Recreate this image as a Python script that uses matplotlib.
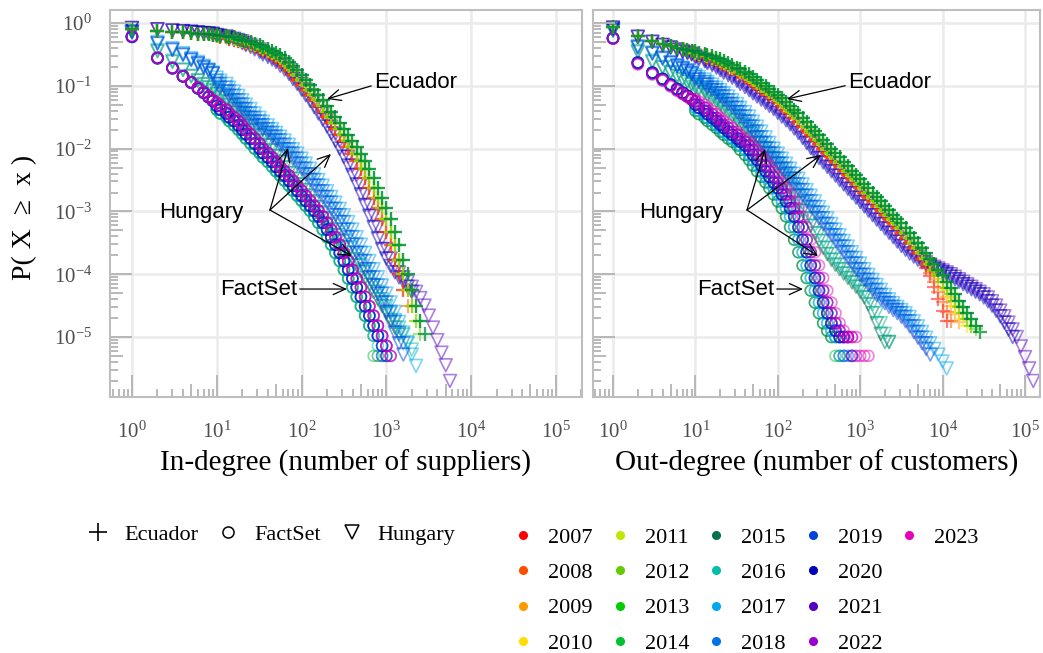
import numpy as np
import matplotlib
matplotlib.use('Agg')
import matplotlib.pyplot as plt
from matplotlib.lines import Line2D
from matplotlib.ticker import NullLocator

plt.rcParams['font.family'] = ['Liberation Serif', 'DejaVu Serif']
plt.rcParams['mathtext.fontset'] = 'custom'
plt.rcParams['mathtext.rm'] = 'Liberation Serif'
plt.rcParams['mathtext.it'] = 'Liberation Serif:italic'
plt.rcParams['mathtext.default'] = 'regular'

# degree values at which the distributions are read (1..9, then every 0.05 decade)
DEG = [1, 2, 3, 4, 5, 6, 7, 8, 9, 10, 11, 13, 14, 16, 18, 20, 22, 25, 28, 32, 35, 40, 45,
       50, 56, 63, 71, 79, 89, 100, 112, 126, 141, 158, 178, 200, 224, 251, 282, 316, 355,
       398, 447, 501, 562, 631, 708, 794, 891, 1000, 1122, 1259, 1413, 1585, 1778, 1995,
       2239, 2512, 2818, 3162, 3548, 3981, 4467, 5012, 5623, 6310, 7079, 7943, 8913,
       10000, 11220, 12589, 14125, 15849, 17783, 19953, 22387, 25119, 28184, 31623, 35481,
       39811, 44668, 50119, 56234, 63096, 70795, 79433, 89125, 100000, 112202, 125893,
       141254]

years = list(range(2007, 2024))
year_colors = ['#FF0000', '#FF4D00', '#FF9900', '#FFDD00', '#C2E600', '#66CC00',
               '#00CC00', '#00C22E', '#00734A', '#00BFA6', '#00A8F0', '#0073E6',
               '#0044D9', '#0000B8', '#5500C0', '#9900CC', '#E600B8']

# log10 P(X >= x), in-degree
ecuador_in = {
    2007: [-0.10, -0.12, -0.14, -0.15, -0.16, -0.17, -0.175, -0.18, -0.19, -0.21, -0.22, -0.23, -0.25, -0.27, -0.29, -0.31, -0.33, -0.35, -0.38, -0.41, -0.44, -0.47, -0.51, -0.56, -0.62, -0.68, -0.75, -0.83, -0.91, -0.99, -1.07, -1.15, -1.23, -1.32, -1.41, -1.50, -1.59, -1.68, -1.78, -1.88, -1.98, -2.08, -2.20, -2.33, -2.47, -2.62, -2.78, -2.94, -3.12, -3.32, -3.54, -3.77, -4.00, -4.25],
    2008: [-0.10, -0.12, -0.14, -0.15, -0.16, -0.17, -0.175, -0.18, -0.19, -0.21, -0.22, -0.23, -0.25, -0.27, -0.29, -0.31, -0.33, -0.35, -0.38, -0.41, -0.44, -0.47, -0.51, -0.56, -0.62, -0.68, -0.75, -0.83, -0.91, -0.99, -1.07, -1.15, -1.23, -1.32, -1.41, -1.50, -1.59, -1.68, -1.78, -1.88, -1.98, -2.08, -2.20, -2.33, -2.47, -2.62, -2.78, -2.94, -3.12, -3.32, -3.54, -3.77, -4.00, -4.25, -4.50],
    2009: [-0.10, -0.12, -0.14, -0.15, -0.16, -0.17, -0.175, -0.18, -0.19, -0.20, -0.21, -0.22, -0.23, -0.25, -0.27, -0.29, -0.31, -0.33, -0.35, -0.38, -0.41, -0.44, -0.47, -0.51, -0.56, -0.62, -0.68, -0.75, -0.83, -0.91, -0.99, -1.07, -1.15, -1.23, -1.32, -1.41, -1.50, -1.59, -1.68, -1.78, -1.88, -1.98, -2.08, -2.20, -2.33, -2.47, -2.62, -2.78, -2.94, -3.12, -3.32, -3.54, -3.77, -4.00, -4.25, -4.50],
    2010: [-0.10, -0.12, -0.14, -0.15, -0.16, -0.17, -0.175, -0.18, -0.19, -0.20, -0.21, -0.22, -0.23, -0.25, -0.27, -0.29, -0.31, -0.33, -0.35, -0.38, -0.41, -0.44, -0.47, -0.51, -0.56, -0.62, -0.68, -0.75, -0.83, -0.91, -0.99, -1.07, -1.15, -1.23, -1.32, -1.41, -1.50, -1.59, -1.68, -1.78, -1.88, -1.98, -2.08, -2.20, -2.33, -2.47, -2.62, -2.78, -2.94, -3.12, -3.32, -3.54, -3.77, -4.00, -4.25, -4.50, -4.75],
    2011: [-0.10, -0.12, -0.14, -0.15, -0.16, -0.17, -0.175, -0.18, -0.19, -0.20, -0.21, -0.22, -0.23, -0.25, -0.27, -0.29, -0.31, -0.33, -0.35, -0.38, -0.41, -0.44, -0.47, -0.51, -0.56, -0.62, -0.68, -0.75, -0.83, -0.91, -0.99, -1.07, -1.15, -1.23, -1.32, -1.41, -1.50, -1.59, -1.68, -1.78, -1.88, -1.98, -2.08, -2.20, -2.33, -2.47, -2.62, -2.78, -2.94, -3.12, -3.32, -3.54, -3.77, -4.00, -4.25, -4.50],
    2012: [-0.10, -0.12, -0.14, -0.15, -0.16, -0.17, -0.175, -0.18, -0.19, -0.20, -0.21, -0.22, -0.23, -0.25, -0.27, -0.29, -0.31, -0.33, -0.35, -0.38, -0.41, -0.44, -0.47, -0.51, -0.56, -0.62, -0.68, -0.75, -0.83, -0.91, -0.99, -1.07, -1.15, -1.23, -1.32, -1.41, -1.50, -1.59, -1.68, -1.78, -1.88, -1.98, -2.08, -2.20, -2.33, -2.47, -2.62, -2.78, -2.94, -3.12, -3.32, -3.54, -3.77, -4.00, -4.25, -4.50, -4.75, -4.95],
    2013: [-0.10, -0.12, -0.14, -0.15, -0.16, -0.17, -0.175, -0.18, -0.19, -0.19, -0.20, -0.21, -0.22, -0.23, -0.25, -0.27, -0.29, -0.31, -0.33, -0.35, -0.38, -0.41, -0.44, -0.47, -0.51, -0.56, -0.62, -0.68, -0.75, -0.83, -0.91, -0.99, -1.07, -1.15, -1.23, -1.32, -1.41, -1.50, -1.59, -1.68, -1.78, -1.88, -1.98, -2.08, -2.20, -2.33, -2.47, -2.62, -2.78, -2.94, -3.12, -3.32, -3.54, -3.77, -4.00, -4.25, -4.50, -4.75],
    2014: [-0.10, -0.12, -0.14, -0.15, -0.16, -0.17, -0.175, -0.18, -0.19, -0.19, -0.20, -0.21, -0.22, -0.23, -0.25, -0.27, -0.29, -0.31, -0.33, -0.35, -0.38, -0.41, -0.44, -0.47, -0.51, -0.56, -0.62, -0.68, -0.75, -0.83, -0.91, -0.99, -1.07, -1.15, -1.23, -1.32, -1.41, -1.50, -1.59, -1.68, -1.78, -1.88, -1.98, -2.08, -2.20, -2.33, -2.47, -2.62, -2.78, -2.94, -3.12, -3.32, -3.54, -3.77, -4.00, -4.25, -4.50, -4.75, -4.95],
    2015: [-0.10, -0.12, -0.14, -0.15, -0.16, -0.17, -0.175, -0.18, -0.19, -0.19, -0.20, -0.21, -0.22, -0.23, -0.25, -0.27, -0.29, -0.31, -0.33, -0.35, -0.38, -0.41, -0.44, -0.47, -0.51, -0.56, -0.62, -0.68, -0.75, -0.83, -0.91, -0.99, -1.07, -1.15, -1.23, -1.32, -1.41, -1.50, -1.59, -1.68, -1.78, -1.88, -1.98, -2.08, -2.20, -2.33, -2.47, -2.62, -2.78, -2.94, -3.12, -3.32, -3.54, -3.77, -4.00, -4.25, -4.50, -4.75, -4.95],
}
hungary_in = {
    2015: [-0.15, -0.45, -0.62, -0.75, -0.85, -0.92, -0.98, -1.03, -1.08, -1.13, -1.19, -1.25, -1.31, -1.37, -1.43, -1.50, -1.57, -1.64, -1.71, -1.79, -1.87, -1.95, -2.03, -2.12, -2.21, -2.30, -2.39, -2.48, -2.57, -2.66, -2.75, -2.84, -2.93, -3.02, -3.11, -3.20, -3.29, -3.38, -3.47, -3.57, -3.66, -3.76, -3.86, -3.96, -4.06, -4.17, -4.28, -4.40, -4.51, -4.62, -4.73, -4.85, -4.96],
    2016: [-0.15, -0.43, -0.60, -0.74, -0.84, -0.91, -0.97, -1.02, -1.06, -1.08, -1.13, -1.19, -1.25, -1.31, -1.37, -1.43, -1.50, -1.57, -1.64, -1.71, -1.79, -1.87, -1.95, -2.03, -2.12, -2.21, -2.30, -2.39, -2.48, -2.57, -2.66, -2.75, -2.84, -2.93, -3.02, -3.11, -3.20, -3.29, -3.38, -3.47, -3.57, -3.66, -3.76, -3.86, -3.96, -4.06, -4.17, -4.28, -4.40, -4.51, -4.62, -4.73, -4.85, -4.96, -5.08, -5.20],
    2017: [-0.13, -0.30, -0.40, -0.48, -0.56, -0.62, -0.68, -0.74, -0.79, -0.87, -0.92, -0.97, -1.03, -1.09, -1.16, -1.23, -1.30, -1.37, -1.44, -1.51, -1.57, -1.63, -1.69, -1.75, -1.81, -1.87, -1.94, -2.01, -2.08, -2.16, -2.24, -2.32, -2.41, -2.50, -2.59, -2.68, -2.77, -2.86, -2.96, -3.06, -3.17, -3.29, -3.41, -3.53, -3.66, -3.79, -3.92, -4.05, -4.18, -4.31, -4.45, -4.60, -4.76, -4.93, -5.10, -5.28, -5.46],
    2018: [-0.14, -0.32, -0.42, -0.50, -0.58, -0.64, -0.70, -0.75, -0.80, -0.92, -0.97, -1.03, -1.09, -1.16, -1.23, -1.30, -1.37, -1.44, -1.51, -1.57, -1.63, -1.69, -1.75, -1.81, -1.87, -1.94, -2.01, -2.08, -2.16, -2.24, -2.32, -2.41, -2.50, -2.59, -2.68, -2.77, -2.86, -2.96, -3.06, -3.17, -3.29, -3.41, -3.53, -3.66, -3.79, -3.92, -4.05, -4.18, -4.31, -4.45, -4.60, -4.76, -4.93, -5.10],
    2019: [-0.14, -0.33, -0.43, -0.51, -0.59, -0.65, -0.71, -0.76, -0.81, -0.97, -1.03, -1.09, -1.16, -1.23, -1.30, -1.37, -1.44, -1.51, -1.57, -1.63, -1.69, -1.75, -1.81, -1.87, -1.94, -2.01, -2.08, -2.16, -2.24, -2.32, -2.41, -2.50, -2.59, -2.68, -2.77, -2.86, -2.96, -3.06, -3.17, -3.29, -3.41, -3.53, -3.66, -3.79, -3.92, -4.05, -4.18, -4.31, -4.45, -4.60, -4.76, -4.93, -5.10, -5.28],
    2020: [-0.08, -0.10, -0.12, -0.13, -0.14, -0.15, -0.16, -0.165, -0.17, -0.20, -0.21, -0.23, -0.25, -0.27, -0.29, -0.32, -0.35, -0.38, -0.42, -0.46, -0.50, -0.54, -0.58, -0.62, -0.68, -0.74, -0.81, -0.89, -0.97, -1.06, -1.15, -1.24, -1.34, -1.44, -1.54, -1.65, -1.76, -1.88, -2.00, -2.13, -2.27, -2.42, -2.57, -2.73, -2.90, -3.07, -3.25, -3.43, -3.60, -3.75, -3.87, -3.97, -4.05, -4.12, -4.20, -4.28],
    2021: [-0.08, -0.10, -0.12, -0.13, -0.14, -0.15, -0.16, -0.17, -0.18, -0.19, -0.20, -0.21, -0.23, -0.25, -0.27, -0.29, -0.32, -0.35, -0.38, -0.42, -0.46, -0.50, -0.54, -0.58, -0.62, -0.68, -0.74, -0.81, -0.89, -0.97, -1.06, -1.15, -1.24, -1.34, -1.44, -1.54, -1.65, -1.76, -1.88, -2.00, -2.13, -2.27, -2.42, -2.57, -2.73, -2.90, -3.07, -3.25, -3.43, -3.60, -3.75, -3.87, -3.97, -4.05, -4.12, -4.20, -4.28, -4.38, -4.50, -4.66, -4.85, -5.05, -5.25, -5.45, -5.70],
}
factset_in = {
    2014: [-0.22, -0.56, -0.72, -0.85, -0.95, -1.04, -1.11, -1.18, -1.24, -1.38, -1.44, -1.50, -1.56, -1.63, -1.70, -1.77, -1.84, -1.92, -2.00, -2.07, -2.14, -2.21, -2.29, -2.36, -2.43, -2.51, -2.59, -2.67, -2.75, -2.83, -2.91, -2.99, -3.08, -3.18, -3.29, -3.41, -3.53, -3.66, -3.79, -3.93, -4.07, -4.21, -4.36, -4.51, -4.66, -4.82, -5.30],
    2015: [-0.22, -0.56, -0.72, -0.85, -0.95, -1.04, -1.11, -1.18, -1.24, -1.38, -1.44, -1.50, -1.56, -1.63, -1.70, -1.77, -1.84, -1.92, -2.00, -2.07, -2.14, -2.21, -2.29, -2.36, -2.43, -2.51, -2.59, -2.67, -2.75, -2.83, -2.91, -2.99, -3.08, -3.18, -3.29, -3.41, -3.53, -3.66, -3.79, -3.93, -4.07, -4.21, -4.36, -4.51, -4.66, -4.82, -4.98, -5.30],
    2016: [-0.22, -0.56, -0.72, -0.85, -0.95, -1.04, -1.11, -1.18, -1.24, -1.38, -1.44, -1.50, -1.56, -1.63, -1.70, -1.77, -1.84, -1.92, -2.00, -2.07, -2.14, -2.21, -2.29, -2.36, -2.43, -2.51, -2.59, -2.67, -2.75, -2.83, -2.91, -2.99, -3.08, -3.18, -3.29, -3.41, -3.53, -3.66, -3.79, -3.93, -4.07, -4.21, -4.36, -4.51, -4.66, -4.82, -4.98, -5.14, -5.30],
    2017: [-0.22, -0.56, -0.72, -0.85, -0.95, -1.04, -1.11, -1.18, -1.24, -1.32, -1.38, -1.44, -1.50, -1.56, -1.63, -1.70, -1.77, -1.84, -1.92, -2.00, -2.07, -2.14, -2.21, -2.29, -2.36, -2.43, -2.51, -2.59, -2.67, -2.75, -2.83, -2.91, -2.99, -3.08, -3.18, -3.29, -3.41, -3.53, -3.66, -3.79, -3.93, -4.07, -4.21, -4.36, -4.51, -4.66, -4.82, -4.98, -5.14],
    2018: [-0.22, -0.56, -0.72, -0.85, -0.95, -1.04, -1.11, -1.18, -1.24, -1.32, -1.38, -1.44, -1.50, -1.56, -1.63, -1.70, -1.77, -1.84, -1.92, -2.00, -2.07, -2.14, -2.21, -2.29, -2.36, -2.43, -2.51, -2.59, -2.67, -2.75, -2.83, -2.91, -2.99, -3.08, -3.18, -3.29, -3.41, -3.53, -3.66, -3.79, -3.93, -4.07, -4.21, -4.36, -4.51, -4.66, -4.82, -4.98, -5.14, -5.30],
    2019: [-0.22, -0.56, -0.72, -0.85, -0.95, -1.04, -1.11, -1.18, -1.24, -1.32, -1.38, -1.44, -1.50, -1.56, -1.63, -1.70, -1.77, -1.84, -1.92, -2.00, -2.07, -2.14, -2.21, -2.29, -2.36, -2.43, -2.51, -2.59, -2.67, -2.75, -2.83, -2.91, -2.99, -3.08, -3.18, -3.29, -3.41, -3.53, -3.66, -3.79, -3.93, -4.07, -4.21, -4.36, -4.51, -4.66, -4.82, -4.98, -5.30],
    2020: [-0.22, -0.56, -0.72, -0.85, -0.95, -1.04, -1.11, -1.18, -1.24, -1.32, -1.38, -1.44, -1.50, -1.56, -1.63, -1.70, -1.77, -1.84, -1.92, -2.00, -2.07, -2.14, -2.21, -2.29, -2.36, -2.43, -2.51, -2.59, -2.67, -2.75, -2.83, -2.91, -2.99, -3.08, -3.18, -3.29, -3.41, -3.53, -3.66, -3.79, -3.93, -4.07, -4.21, -4.36, -4.51, -4.66, -4.82, -4.98, -5.14, -5.30],
    2021: [-0.21, -0.55, -0.71, -0.84, -0.94, -1.03, -1.10, -1.17, -1.23, -1.27, -1.32, -1.38, -1.44, -1.50, -1.56, -1.63, -1.70, -1.77, -1.84, -1.92, -2.00, -2.07, -2.14, -2.21, -2.29, -2.36, -2.43, -2.51, -2.59, -2.67, -2.75, -2.83, -2.91, -2.99, -3.08, -3.18, -3.29, -3.41, -3.53, -3.66, -3.79, -3.93, -4.07, -4.21, -4.36, -4.51, -4.66, -4.82, -4.98, -5.14, -5.30],
    2022: [-0.21, -0.55, -0.71, -0.84, -0.94, -1.03, -1.10, -1.17, -1.23, -1.27, -1.32, -1.38, -1.44, -1.50, -1.56, -1.63, -1.70, -1.77, -1.84, -1.92, -2.00, -2.07, -2.14, -2.21, -2.29, -2.36, -2.43, -2.51, -2.59, -2.67, -2.75, -2.83, -2.91, -2.99, -3.08, -3.18, -3.29, -3.41, -3.53, -3.66, -3.79, -3.93, -4.07, -4.21, -4.36, -4.51, -4.66, -4.82, -4.98, -5.14],
    2023: [-0.21, -0.56, -0.72, -0.85, -0.95, -1.03, -1.10, -1.17, -1.23, -1.27, -1.32, -1.38, -1.44, -1.50, -1.56, -1.63, -1.70, -1.77, -1.84, -1.92, -2.00, -2.07, -2.14, -2.21, -2.29, -2.36, -2.43, -2.51, -2.59, -2.67, -2.75, -2.83, -2.91, -2.99, -3.08, -3.18, -3.29, -3.41, -3.53, -3.66, -3.79, -3.93, -4.07, -4.21, -4.36, -4.51, -4.66, -4.82, -4.98, -5.14, -5.30],
}

# log10 P(X >= x), out-degree
ecuador_out = {
    2007: [-0.06, -0.21, -0.28, -0.33, -0.37, -0.40, -0.415, -0.43, -0.44, -0.49, -0.51, -0.53, -0.56, -0.58, -0.61, -0.64, -0.67, -0.71, -0.74, -0.78, -0.82, -0.86, -0.90, -0.95, -1.00, -1.05, -1.10, -1.15, -1.20, -1.26, -1.32, -1.38, -1.44, -1.51, -1.58, -1.65, -1.72, -1.79, -1.86, -1.93, -2.00, -2.07, -2.14, -2.21, -2.28, -2.35, -2.42, -2.49, -2.56, -2.63, -2.70, -2.77, -2.84, -2.91, -2.98, -3.05, -3.12, -3.19, -3.27, -3.35, -3.43, -3.51, -3.59, -3.67, -3.78, -3.90, -4.03, -4.20, -4.40, -4.58, -4.75],
    2008: [-0.06, -0.21, -0.28, -0.33, -0.37, -0.40, -0.415, -0.43, -0.44, -0.49, -0.51, -0.53, -0.56, -0.58, -0.61, -0.64, -0.67, -0.71, -0.74, -0.78, -0.82, -0.86, -0.90, -0.95, -1.00, -1.05, -1.10, -1.15, -1.20, -1.26, -1.32, -1.38, -1.44, -1.51, -1.58, -1.65, -1.72, -1.79, -1.86, -1.93, -2.00, -2.07, -2.14, -2.21, -2.28, -2.35, -2.42, -2.49, -2.56, -2.63, -2.70, -2.77, -2.84, -2.91, -2.98, -3.05, -3.12, -3.19, -3.27, -3.35, -3.43, -3.51, -3.59, -3.67, -3.75, -3.86, -3.98, -4.12, -4.28, -4.45, -4.60, -4.75],
    2009: [-0.06, -0.21, -0.28, -0.33, -0.37, -0.40, -0.415, -0.43, -0.44, -0.47, -0.49, -0.51, -0.53, -0.56, -0.58, -0.61, -0.64, -0.67, -0.71, -0.74, -0.78, -0.82, -0.86, -0.90, -0.95, -1.00, -1.05, -1.10, -1.15, -1.20, -1.26, -1.32, -1.38, -1.44, -1.51, -1.58, -1.65, -1.72, -1.79, -1.86, -1.93, -2.00, -2.07, -2.14, -2.21, -2.28, -2.35, -2.42, -2.49, -2.56, -2.63, -2.70, -2.77, -2.84, -2.91, -2.98, -3.05, -3.12, -3.19, -3.27, -3.35, -3.43, -3.51, -3.59, -3.67, -3.75, -3.84, -3.95, -4.08, -4.22, -4.36, -4.50, -4.64, -4.76],
    2010: [-0.06, -0.21, -0.28, -0.33, -0.37, -0.40, -0.415, -0.43, -0.44, -0.47, -0.49, -0.51, -0.53, -0.56, -0.58, -0.61, -0.64, -0.67, -0.71, -0.74, -0.78, -0.82, -0.86, -0.90, -0.95, -1.00, -1.05, -1.10, -1.15, -1.20, -1.26, -1.32, -1.38, -1.44, -1.51, -1.58, -1.65, -1.72, -1.79, -1.86, -1.93, -2.00, -2.07, -2.14, -2.21, -2.28, -2.35, -2.42, -2.49, -2.56, -2.63, -2.70, -2.77, -2.84, -2.91, -2.98, -3.05, -3.12, -3.19, -3.27, -3.35, -3.43, -3.51, -3.59, -3.67, -3.75, -3.84, -3.93, -4.02, -4.13, -4.25, -4.38, -4.50, -4.62, -4.72, -4.82],
    2011: [-0.06, -0.21, -0.28, -0.33, -0.37, -0.40, -0.415, -0.43, -0.44, -0.47, -0.49, -0.51, -0.53, -0.56, -0.58, -0.61, -0.64, -0.67, -0.71, -0.74, -0.78, -0.82, -0.86, -0.90, -0.95, -1.00, -1.05, -1.10, -1.15, -1.20, -1.26, -1.32, -1.38, -1.44, -1.51, -1.58, -1.65, -1.72, -1.79, -1.86, -1.93, -2.00, -2.07, -2.14, -2.21, -2.28, -2.35, -2.42, -2.49, -2.56, -2.63, -2.70, -2.77, -2.84, -2.91, -2.98, -3.05, -3.12, -3.19, -3.27, -3.35, -3.43, -3.51, -3.59, -3.67, -3.75, -3.84, -3.93, -4.02, -4.12, -4.22, -4.32, -4.42, -4.52, -4.62, -4.72, -4.82],
    2012: [-0.06, -0.21, -0.28, -0.33, -0.37, -0.40, -0.415, -0.43, -0.44, -0.47, -0.49, -0.51, -0.53, -0.56, -0.58, -0.61, -0.64, -0.67, -0.71, -0.74, -0.78, -0.82, -0.86, -0.90, -0.95, -1.00, -1.05, -1.10, -1.15, -1.20, -1.26, -1.32, -1.38, -1.44, -1.51, -1.58, -1.65, -1.72, -1.79, -1.86, -1.93, -2.00, -2.07, -2.14, -2.21, -2.28, -2.35, -2.42, -2.49, -2.56, -2.63, -2.70, -2.77, -2.84, -2.91, -2.98, -3.05, -3.12, -3.19, -3.27, -3.35, -3.43, -3.51, -3.59, -3.67, -3.75, -3.84, -3.93, -4.02, -4.12, -4.22, -4.32, -4.42, -4.52, -4.62, -4.72, -4.82, -4.88],
    2013: [-0.06, -0.21, -0.28, -0.33, -0.37, -0.40, -0.415, -0.43, -0.44, -0.45, -0.47, -0.49, -0.51, -0.53, -0.56, -0.58, -0.61, -0.64, -0.67, -0.71, -0.74, -0.78, -0.82, -0.86, -0.90, -0.95, -1.00, -1.05, -1.10, -1.15, -1.20, -1.26, -1.32, -1.38, -1.44, -1.51, -1.58, -1.65, -1.72, -1.79, -1.86, -1.93, -2.00, -2.07, -2.14, -2.21, -2.28, -2.35, -2.42, -2.49, -2.56, -2.63, -2.70, -2.77, -2.84, -2.91, -2.98, -3.05, -3.12, -3.19, -3.27, -3.35, -3.43, -3.51, -3.59, -3.67, -3.75, -3.84, -3.93, -4.02, -4.12, -4.22, -4.32, -4.42, -4.52, -4.62, -4.72, -4.82, -4.92],
    2014: [-0.06, -0.21, -0.28, -0.33, -0.37, -0.40, -0.415, -0.43, -0.44, -0.45, -0.47, -0.49, -0.51, -0.53, -0.56, -0.58, -0.61, -0.64, -0.67, -0.71, -0.74, -0.78, -0.82, -0.86, -0.90, -0.95, -1.00, -1.05, -1.10, -1.15, -1.20, -1.26, -1.32, -1.38, -1.44, -1.51, -1.58, -1.65, -1.72, -1.79, -1.86, -1.93, -2.00, -2.07, -2.14, -2.21, -2.28, -2.35, -2.42, -2.49, -2.56, -2.63, -2.70, -2.77, -2.84, -2.91, -2.98, -3.05, -3.12, -3.19, -3.27, -3.35, -3.43, -3.51, -3.59, -3.67, -3.75, -3.84, -3.93, -4.02, -4.12, -4.22, -4.32, -4.42, -4.52, -4.62, -4.72, -4.82],
    2015: [-0.06, -0.21, -0.28, -0.33, -0.37, -0.40, -0.415, -0.43, -0.44, -0.45, -0.47, -0.49, -0.51, -0.53, -0.56, -0.58, -0.61, -0.64, -0.67, -0.71, -0.74, -0.78, -0.82, -0.86, -0.90, -0.95, -1.00, -1.05, -1.10, -1.15, -1.20, -1.26, -1.32, -1.38, -1.44, -1.51, -1.58, -1.65, -1.72, -1.79, -1.86, -1.93, -2.00, -2.07, -2.14, -2.21, -2.28, -2.35, -2.42, -2.49, -2.56, -2.63, -2.70, -2.77, -2.84, -2.91, -2.98, -3.05, -3.12, -3.19, -3.27, -3.35, -3.43, -3.51, -3.59, -3.67, -3.75, -3.84, -3.93, -4.02, -4.12, -4.22, -4.32, -4.42, -4.52, -4.62, -4.72, -4.82, -4.92],
}
hungary_out = {
    2015: [-0.12, -0.46, -0.62, -0.71, -0.79, -0.85, -0.90, -0.94, -0.98, -1.02, -1.06, -1.10, -1.15, -1.20, -1.25, -1.30, -1.36, -1.42, -1.48, -1.55, -1.62, -1.69, -1.76, -1.83, -1.91, -1.99, -2.07, -2.15, -2.24, -2.33, -2.43, -2.53, -2.64, -2.75, -2.87, -2.99, -3.11, -3.23, -3.35, -3.47, -3.58, -3.68, -3.77, -3.85, -3.92, -3.99, -4.06, -4.13, -4.20, -4.28, -4.37, -4.48, -4.62, -4.78, -4.95, -5.08, -5.08],
    2016: [-0.12, -0.44, -0.60, -0.70, -0.78, -0.84, -0.89, -0.93, -0.97, -0.99, -1.02, -1.06, -1.10, -1.15, -1.20, -1.25, -1.30, -1.36, -1.42, -1.48, -1.55, -1.62, -1.69, -1.76, -1.83, -1.91, -1.99, -2.07, -2.15, -2.24, -2.33, -2.43, -2.53, -2.64, -2.75, -2.87, -2.99, -3.11, -3.23, -3.35, -3.47, -3.58, -3.68, -3.77, -3.85, -3.92, -3.99, -4.06, -4.13, -4.20, -4.28, -4.37, -4.48, -4.62, -4.78, -4.95, -5.08],
    2017: [-0.10, -0.37, -0.47, -0.55, -0.62, -0.67, -0.71, -0.75, -0.79, -0.83, -0.86, -0.90, -0.94, -0.98, -1.03, -1.07, -1.12, -1.17, -1.23, -1.29, -1.35, -1.42, -1.49, -1.57, -1.65, -1.73, -1.82, -1.91, -2.00, -2.08, -2.16, -2.24, -2.32, -2.40, -2.48, -2.57, -2.66, -2.75, -2.84, -2.93, -3.02, -3.11, -3.20, -3.29, -3.38, -3.47, -3.56, -3.65, -3.74, -3.83, -3.92, -4.01, -4.09, -4.17, -4.25, -4.33, -4.40, -4.46, -4.52, -4.57, -4.62, -4.68, -4.75, -4.83, -4.92, -5.01, -5.10, -5.19, -5.28, -5.39, -5.50],
    2018: [-0.10, -0.38, -0.48, -0.56, -0.63, -0.68, -0.72, -0.76, -0.80, -0.86, -0.90, -0.94, -0.98, -1.03, -1.07, -1.12, -1.17, -1.23, -1.29, -1.35, -1.42, -1.49, -1.57, -1.65, -1.73, -1.82, -1.91, -2.00, -2.08, -2.16, -2.24, -2.32, -2.40, -2.48, -2.57, -2.66, -2.75, -2.84, -2.93, -3.02, -3.11, -3.20, -3.29, -3.38, -3.47, -3.56, -3.65, -3.74, -3.83, -3.92, -4.01, -4.09, -4.17, -4.25, -4.33, -4.40, -4.46, -4.52, -4.57, -4.62, -4.68, -4.75, -4.83, -4.92, -5.01, -5.10],
    2019: [-0.11, -0.39, -0.49, -0.57, -0.64, -0.69, -0.73, -0.77, -0.81, -0.90, -0.94, -0.98, -1.03, -1.07, -1.12, -1.17, -1.23, -1.29, -1.35, -1.42, -1.49, -1.57, -1.65, -1.73, -1.82, -1.91, -2.00, -2.08, -2.16, -2.24, -2.32, -2.40, -2.48, -2.57, -2.66, -2.75, -2.84, -2.93, -3.02, -3.11, -3.20, -3.29, -3.38, -3.47, -3.56, -3.65, -3.74, -3.83, -3.92, -4.01, -4.09, -4.17, -4.25, -4.33, -4.40, -4.46, -4.52, -4.57, -4.62, -4.68, -4.75, -4.83, -4.92, -5.01, -5.10, -5.19, -5.28],
    2020: [-0.07, -0.22, -0.30, -0.35, -0.39, -0.42, -0.45, -0.47, -0.49, -0.55, -0.58, -0.61, -0.64, -0.67, -0.71, -0.75, -0.79, -0.83, -0.87, -0.92, -0.97, -1.02, -1.07, -1.12, -1.17, -1.22, -1.27, -1.32, -1.37, -1.43, -1.49, -1.55, -1.61, -1.68, -1.75, -1.83, -1.91, -1.99, -2.07, -2.15, -2.22, -2.29, -2.36, -2.43, -2.50, -2.57, -2.64, -2.71, -2.78, -2.85, -2.92, -2.99, -3.06, -3.13, -3.20, -3.27, -3.34, -3.41, -3.48, -3.55, -3.61, -3.67, -3.72, -3.77, -3.81, -3.85, -3.88, -3.91, -3.94, -3.97, -4.00, -4.04, -4.08, -4.12, -4.16, -4.20, -4.24, -4.28, -4.32, -4.37, -4.43, -4.50, -4.58, -4.67, -4.77, -4.88, -5.00],
    2021: [-0.08, -0.22, -0.30, -0.35, -0.39, -0.43, -0.46, -0.48, -0.50, -0.52, -0.55, -0.58, -0.61, -0.64, -0.67, -0.71, -0.75, -0.79, -0.83, -0.87, -0.92, -0.97, -1.02, -1.07, -1.12, -1.17, -1.22, -1.27, -1.32, -1.37, -1.43, -1.49, -1.55, -1.61, -1.68, -1.75, -1.83, -1.91, -1.99, -2.07, -2.15, -2.22, -2.29, -2.36, -2.43, -2.50, -2.57, -2.64, -2.71, -2.78, -2.85, -2.92, -2.99, -3.06, -3.13, -3.20, -3.27, -3.34, -3.41, -3.48, -3.55, -3.61, -3.67, -3.72, -3.77, -3.81, -3.85, -3.88, -3.91, -3.94, -3.97, -4.00, -4.04, -4.08, -4.12, -4.16, -4.20, -4.24, -4.28, -4.32, -4.37, -4.43, -4.50, -4.58, -4.67, -4.77, -4.88, -5.00, -5.15, -5.32, -5.50, -5.70],
}
factset_out = {
    2014: [-0.24, -0.63, -0.79, -0.89, -0.98, -1.05, -1.11, -1.16, -1.21, -1.40, -1.45, -1.51, -1.56, -1.62, -1.67, -1.73, -1.78, -1.84, -1.89, -1.95, -2.02, -2.10, -2.18, -2.27, -2.36, -2.45, -2.54, -2.63, -2.73, -2.84, -2.95, -3.08, -3.25, -3.45, -3.65, -3.86, -4.06, -4.26, -4.45, -4.62, -4.78, -4.90, -5.00, -5.30],
    2015: [-0.24, -0.63, -0.79, -0.89, -0.98, -1.05, -1.11, -1.16, -1.21, -1.40, -1.45, -1.51, -1.56, -1.62, -1.67, -1.73, -1.78, -1.84, -1.89, -1.95, -2.02, -2.10, -2.18, -2.27, -2.36, -2.45, -2.54, -2.63, -2.73, -2.84, -2.95, -3.08, -3.25, -3.45, -3.65, -3.86, -4.06, -4.26, -4.45, -4.62, -4.78, -4.90, -5.00, -5.00, -5.30],
    2016: [-0.24, -0.63, -0.79, -0.89, -0.98, -1.05, -1.11, -1.16, -1.21, -1.35, -1.40, -1.45, -1.51, -1.56, -1.62, -1.67, -1.73, -1.78, -1.84, -1.89, -1.95, -2.02, -2.10, -2.18, -2.27, -2.36, -2.45, -2.54, -2.63, -2.73, -2.84, -2.95, -3.08, -3.25, -3.45, -3.65, -3.86, -4.06, -4.26, -4.45, -4.62, -4.78, -4.90, -5.00, -5.30],
    2017: [-0.24, -0.63, -0.79, -0.89, -0.98, -1.05, -1.11, -1.16, -1.21, -1.35, -1.40, -1.45, -1.51, -1.56, -1.62, -1.67, -1.73, -1.78, -1.84, -1.89, -1.95, -2.02, -2.10, -2.18, -2.27, -2.36, -2.45, -2.54, -2.63, -2.73, -2.84, -2.95, -3.08, -3.25, -3.45, -3.65, -3.86, -4.06, -4.26, -4.45, -4.62, -4.78, -4.90, -5.00, -5.00, -5.30],
    2018: [-0.24, -0.63, -0.79, -0.89, -0.98, -1.05, -1.11, -1.16, -1.21, -1.30, -1.35, -1.40, -1.45, -1.51, -1.56, -1.62, -1.67, -1.73, -1.78, -1.84, -1.89, -1.95, -2.02, -2.10, -2.18, -2.27, -2.36, -2.45, -2.54, -2.63, -2.73, -2.84, -2.95, -3.08, -3.25, -3.45, -3.65, -3.86, -4.06, -4.26, -4.45, -4.62, -4.78, -4.90, -5.00, -5.00, -5.30],
    2019: [-0.24, -0.63, -0.79, -0.89, -0.98, -1.05, -1.11, -1.16, -1.21, -1.30, -1.35, -1.40, -1.45, -1.51, -1.56, -1.62, -1.67, -1.73, -1.78, -1.84, -1.89, -1.95, -2.02, -2.10, -2.18, -2.27, -2.36, -2.45, -2.54, -2.63, -2.73, -2.84, -2.95, -3.08, -3.25, -3.45, -3.65, -3.86, -4.06, -4.26, -4.45, -4.62, -4.78, -4.90, -5.00, -5.30],
    2020: [-0.24, -0.63, -0.79, -0.89, -0.98, -1.05, -1.11, -1.16, -1.21, -1.30, -1.35, -1.40, -1.45, -1.51, -1.56, -1.62, -1.67, -1.73, -1.78, -1.84, -1.89, -1.95, -2.02, -2.10, -2.18, -2.27, -2.36, -2.45, -2.54, -2.63, -2.73, -2.84, -2.95, -3.08, -3.25, -3.45, -3.65, -3.86, -4.06, -4.26, -4.45, -4.62, -4.78, -4.90, -5.00, -5.00, -5.00, -5.30],
    2021: [-0.24, -0.64, -0.80, -0.90, -0.99, -1.06, -1.12, -1.17, -1.22, -1.25, -1.30, -1.35, -1.40, -1.45, -1.51, -1.56, -1.62, -1.67, -1.73, -1.78, -1.84, -1.89, -1.95, -2.02, -2.10, -2.18, -2.27, -2.36, -2.45, -2.54, -2.63, -2.73, -2.84, -2.95, -3.08, -3.25, -3.45, -3.65, -3.86, -4.06, -4.26, -4.45, -4.62, -4.78, -4.90, -5.00, -5.00, -5.30],
    2022: [-0.25, -0.65, -0.81, -0.91, -1.00, -1.07, -1.13, -1.17, -1.22, -1.25, -1.30, -1.35, -1.40, -1.45, -1.51, -1.56, -1.62, -1.67, -1.73, -1.78, -1.84, -1.89, -1.95, -2.02, -2.10, -2.18, -2.27, -2.36, -2.45, -2.54, -2.63, -2.73, -2.84, -2.95, -3.08, -3.25, -3.45, -3.65, -3.86, -4.06, -4.26, -4.45, -4.62, -4.78, -4.90, -5.00, -5.00, -5.00, -5.30],
    2023: [-0.25, -0.66, -0.82, -0.92, -1.01, -1.08, -1.13, -1.18, -1.21, -1.21, -1.25, -1.30, -1.35, -1.40, -1.45, -1.51, -1.56, -1.62, -1.67, -1.73, -1.78, -1.84, -1.89, -1.95, -2.02, -2.10, -2.18, -2.27, -2.36, -2.45, -2.54, -2.63, -2.73, -2.84, -2.95, -3.08, -3.25, -3.45, -3.65, -3.86, -4.06, -4.26, -4.45, -4.62, -4.78, -4.90, -5.00, -5.00, -5.00, -5.30, -5.30, -5.30],
}

# Hungary 2020 (dark blue) sits on top of 2021 in the picture
hungary_order = [2015, 2016, 2017, 2018, 2019, 2021, 2020]

# label placement in (log10 x, log10 y)
notes_in = {'ecuador': ((2.854, -0.955), (2.30, -1.21)),
            'hungary': ((0.814, -3.01), (1.627, -2.978), [(1.84, -1.99), (2.347, -2.086), (2.594, -3.71)]),
            'factset': ((1.946, -4.236), (2.535, -4.236))}
notes_out = {'ecuador': ((2.852, -0.955), (2.112, -1.21)),
             'hungary': ((0.831, -3.01), (1.626, -2.978), [(1.845, -2.006), (2.524, -2.10), (2.488, -3.71)]),
             'factset': ((1.954, -4.236), (2.306, -4.236))}

W, H = 1043, 653
ALPHA = 0.5
GRID = '#EBEBEB'
FRAME = '#BEBEBE'
TICK = '#B3B3B3'
Y_LO, Y_HI = -5.955, 0.207
ARROW = dict(arrowstyle='->,head_length=0.55,head_width=0.25', color='black',
             lw=0.9, shrinkA=0, shrinkB=0, mutation_scale=16)
SANS = 'Liberation Sans'


def draw_series(ax, series, marker, size, lw, order=None):
    for year in (order or list(series)):
        logp = series[year]
        col = year_colors[year - 2007]
        x = DEG[:len(logp)]
        y = np.power(10.0, logp)
        if marker == '+':
            ax.scatter(x, y, marker='+', s=size, c=col, linewidths=lw, alpha=ALPHA)
        else:
            ax.scatter(x, y, marker=marker, s=size, facecolors='none',
                       edgecolors=col, linewidths=lw, alpha=ALPHA)


def logticks(ax, w_px, h_px, xlo, xhi):
    xt = ax.get_xaxis_transform()
    yt = ax.get_yaxis_transform()
    for k in range(-7, 7):
        for m in range(1, 10):
            v = m * 10.0 ** k
            n = 22 if m == 1 else (13 if m == 5 else 8)
            if 10 ** xlo <= v <= 10 ** xhi:
                ax.plot([v, v], [0, n / h_px], transform=xt, color=TICK, lw=1.3,
                        solid_capstyle='butt', zorder=1)
            if 10 ** Y_LO <= v <= 10 ** Y_HI:
                ax.plot([0, n / w_px], [v, v], transform=yt, color=TICK, lw=1.3,
                        solid_capstyle='butt', zorder=1)


def style_panel(ax, w_px, xlo, xhi, left_labels):
    ax.set_xscale('log')
    ax.set_yscale('log')
    logticks(ax, w_px, 387, xlo, xhi)
    ax.set_xlim(10 ** xlo, 10 ** xhi)
    ax.set_ylim(10 ** Y_LO, 10 ** Y_HI)
    ax.set_xticks([10.0 ** k for k in range(0, 6)])
    ax.set_xticklabels(['$10^{%d}$' % k for k in range(0, 6)])
    ax.set_yticks([10.0 ** k for k in range(-5, 1)])
    ax.set_yticklabels(['$10^{%d}$' % k for k in range(-5, 1)])
    ax.xaxis.set_minor_locator(NullLocator())
    ax.yaxis.set_minor_locator(NullLocator())
    ax.tick_params(length=0, labelsize=15, labelcolor='#4D4D4D')
    ax.tick_params(axis='x', pad=18)
    ax.tick_params(axis='y', pad=13)
    if not left_labels:
        ax.tick_params(labelleft=False)
    ax.grid(True, color=GRID, lw=1.8)
    ax.set_axisbelow(True)
    for s in ax.spines.values():
        s.set_color(FRAME)
        s.set_linewidth(1.5)


def add_notes(ax, notes):
    p = lambda t: (10 ** t[0], 10 ** t[1])
    txt, head = notes['ecuador']
    ax.annotate('Ecuador', xy=p(head), xytext=p(txt), ha='left', va='center',
                fontsize=16, family=SANS, arrowprops=dict(ARROW, relpos=(0, 0.4)))
    txt, tail, heads = notes['hungary']
    ax.text(*p(txt), 'Hungary', ha='center', va='center', fontsize=16, family=SANS)
    for h in heads:
        ax.annotate('', xy=p(h), xytext=p(tail), arrowprops=ARROW)
    txt, head = notes['factset']
    ax.annotate('FactSet', xy=p(head), xytext=p(txt), ha='right', va='center',
                fontsize=16, family=SANS, arrowprops=dict(ARROW, relpos=(1, 0.5)))


fig = plt.figure(figsize=(W / 100, H / 100), dpi=100)
ax1 = fig.add_axes((110 / W, 256 / H, 472 / W, 387 / H))
ax2 = fig.add_axes((593 / W, 256 / H, 447 / W, 387 / H))

for ax, hun, fs, ecu in [(ax1, hungary_in, factset_in, ecuador_in),
                         (ax2, hungary_out, factset_out, ecuador_out)]:
    draw_series(ax, hun, 'v', 85, 1.2, hungary_order)
    draw_series(ax, fs, 'o', 62, 1.2)
    draw_series(ax, ecu, '+', 95, 1.6)

style_panel(ax1, 472, -0.259, 5.307, True)
style_panel(ax2, 447, -0.243, 5.182, False)
add_notes(ax1, notes_in)
add_notes(ax2, notes_out)

ax1.set_xlabel('In-degree (number of suppliers)', fontsize=21, labelpad=5)
ax2.set_xlabel('Out-degree (number of customers)', fontsize=21, labelpad=5)
ax1.set_ylabel('P( X  ≥  x )', fontsize=20)
ax1.yaxis.set_label_coords(-0.155, 0.465)

shape_handles = [
    Line2D([], [], linestyle='none', marker='+', color='black', markersize=13, markeredgewidth=1.2),
    Line2D([], [], linestyle='none', marker='o', markerfacecolor='none', markeredgecolor='black',
           markersize=8, markeredgewidth=1.1),
    Line2D([], [], linestyle='none', marker='v', markerfacecolor='none', markeredgecolor='black',
           markersize=10, markeredgewidth=1.1),
]
fig.legend(shape_handles, ['Ecuador', 'FactSet', 'Hungary'], ncol=3, loc='center left',
           bbox_to_anchor=(86.9 / W, 1 - 535 / H), frameon=False, fontsize=16,
           handlelength=1.0, handletextpad=0.67, columnspacing=0.87,
           borderpad=0, borderaxespad=0)

year_handles = [Line2D([], [], linestyle='none', marker='o', color=c, markersize=5.5)
                for c in year_colors]
blanks = [Line2D([], [], linestyle='none') for _ in range(3)]
fig.legend(year_handles + blanks, [str(y) for y in years] + [''] * 3, ncol=5,
           loc='center left', bbox_to_anchor=(511.9 / W, 1 - 590.5 / H), frameon=False,
           fontsize=16, handlelength=1.0, handletextpad=0.63, columnspacing=0.71,
           labelspacing=0.66, borderpad=0, borderaxespad=0)

fig.savefig('out.png', dpi=100)
